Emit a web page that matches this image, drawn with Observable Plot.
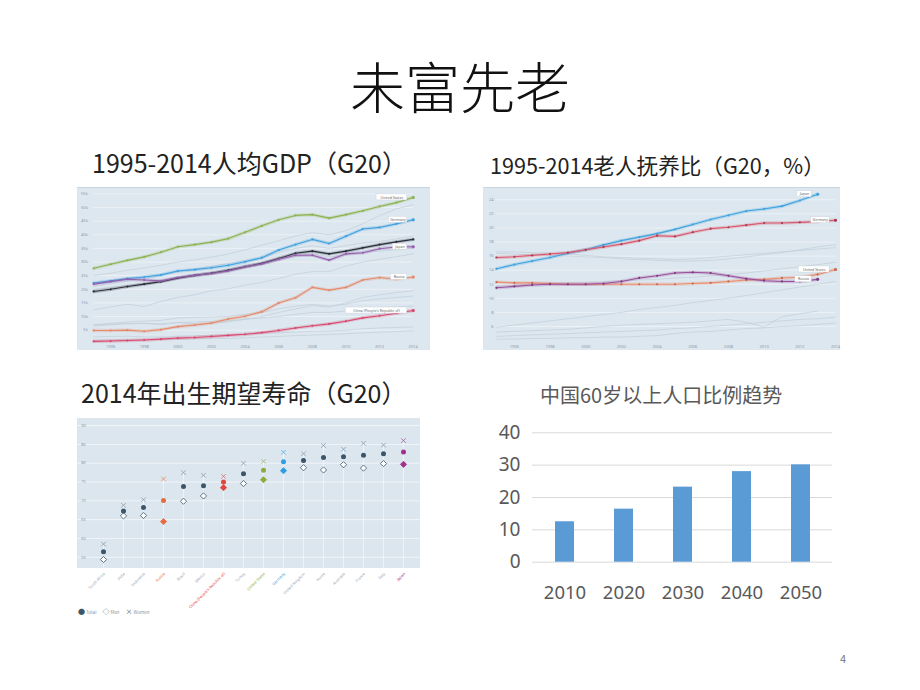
<!DOCTYPE html>
<html><head><meta charset="utf-8">
<script src="https://cdn.jsdelivr.net/npm/d3@7"></script>
<script src="https://cdn.jsdelivr.net/npm/@observablehq/plot@0.6"></script>
<style>
body{margin:0;background:#fff;}
#slide{position:relative;width:920px;height:690px;overflow:hidden;background:#fff;font-family:"Noto Sans CJK SC","Noto Sans",sans-serif;}
.abs{position:absolute;white-space:nowrap;}
.panel{position:absolute;background:#dde7ef;}
.chart{position:absolute;}
.chart svg{overflow:visible;}
</style></head>
<body>
<div id="slide">
  <div class="abs" style="left:0;width:920px;top:52px;line-height:64px;font-size:55px;font-weight:300;text-align:center;color:#111;">未富先老</div>
  <div class="abs" style="left:92px;top:146px;line-height:32px;font-size:25px;color:#222;">1995-2014人均GDP（G20）</div>
  <div class="abs" style="left:490px;top:150px;line-height:30px;font-size:21.6px;color:#222;">1995-2014老人抚养比（G20，%）</div>
  <div class="abs" style="left:81px;top:376px;line-height:32px;font-size:25px;color:#222;">2014年出生期望寿命（G20）</div>
  <div class="abs" style="left:540px;top:382px;line-height:26px;font-size:20px;color:#595959;">中国60岁以上人口比例趋势</div>
  <div class="abs" style="left:840px;top:650px;line-height:16px;font-size:11px;color:#777;">4</div>

  <div class="panel" style="left:77px;top:187px;width:353px;height:162px;border-top:1px solid #c9d5df;"></div>
  <div class="chart" id="gdp" style="left:77px;top:187px;"></div>

  <div class="panel" style="left:483px;top:187px;width:357px;height:162px;border-top:1px solid #c9d5df;"></div>
  <div class="chart" id="dep" style="left:483px;top:187px;"></div>

  <div class="panel" style="left:76.7px;top:418.3px;width:343.3px;height:149.4px;background:#dbe6ee;"></div>
  <div class="chart" id="life" style="left:70px;top:410px;"></div>
  <div class="abs" id="legend" style="left:78px;top:606px;line-height:10px;font-size:4.5px;color:#8a96a0;">
    <span style="color:#3d5568;font-size:7px;">●</span> Total&nbsp;&nbsp;&nbsp;&nbsp;&nbsp;&nbsp;<span style="color:#3d5568;font-size:7px;">◇</span> Men&nbsp;&nbsp;&nbsp;&nbsp;&nbsp;&nbsp;<span style="color:#3d5568;font-size:7px;">×</span> Women
  </div>

  <div class="chart" id="bar" style="left:480px;top:420px;"></div>
</div>
<script>
// ---------- shared ----------
const years = [1995,1996,1997,1998,1999,2000,2001,2002,2003,2004,2005,2006,2007,2008,2009,2010,2011,2012,2013,2014];
const yearTicks = [1996,1998,2000,2002,2004,2006,2008,2010,2012,2014];

// ---------- GDP per capita (thousand USD) ----------
const gdpUS      = [27.7,29.2,30.6,31.9,33.6,35.6,36.4,37.3,38.6,40.9,43.3,45.5,47.1,47.4,46.1,47.4,48.8,50.4,51.8,53.7];
const gdpGermany = [22.3,23.1,23.9,24.5,25.3,26.7,27.2,27.9,28.8,30.1,31.6,34.4,36.4,38.3,36.8,39.5,42.1,42.7,44.0,45.5];
const gdpJapan   = [21.9,22.8,23.7,23.4,23.1,24.3,25.1,25.8,26.7,28.2,29.4,31.0,32.5,32.5,30.7,33.0,33.4,34.9,35.5,35.6];
const gdpOECD    = [19.2,20.0,21.0,21.9,22.8,24.1,25.1,25.9,27.0,28.3,29.5,31.3,33.2,34.0,33.0,34.0,35.2,36.4,37.4,38.3];
const gdpRussia  = [4.9,4.9,5.0,4.6,5.2,6.3,6.9,7.6,9.1,10.1,11.8,15.0,16.9,20.7,19.7,20.7,23.4,24.3,23.7,24.5];
const gdpChina   = [0.9,1.0,1.2,1.4,1.7,2.1,2.3,2.7,3.1,3.5,4.1,4.9,5.8,6.6,7.3,8.3,9.5,10.3,11.2,12.2];
const gdpOthers = [
  [25.0,25.9,27.0,27.8,28.8,30.0,30.8,31.8,32.9,34.5,36.2,37.8,39.5,40.8,40.0,41.5,44.0,47.0,49.5,51.0],
  [21.0,22.0,23.0,24.0,25.0,26.5,27.5,28.5,29.5,30.5,31.5,33.5,35.0,36.0,35.0,36.0,37.0,37.5,38.5,39.5],
  [20.0,20.8,21.5,22.3,23.0,24.5,25.3,26.0,26.8,27.8,29.0,30.5,32.0,33.0,32.0,32.5,33.5,34.0,34.5,35.0],
  [12.5,13.5,14.5,13.7,15.5,17.0,18.0,19.5,20.2,21.5,22.5,24.0,25.5,26.5,26.5,28.5,30.0,31.0,32.0,33.0],
  [7.0,7.5,8.0,8.3,8.6,9.5,9.7,9.8,10.0,10.8,11.5,12.8,13.8,14.5,13.8,14.5,15.8,16.5,17.0,17.5],
  [6.5,7.0,7.3,7.5,7.0,7.8,7.3,7.5,8.0,9.0,10.0,11.5,12.8,14.0,13.5,15.0,17.0,18.0,18.8,19.5],
  [7.0,7.2,7.5,7.5,7.3,7.8,8.0,8.2,8.4,9.0,9.5,10.0,10.8,11.5,11.5,12.0,12.8,13.2,13.5,13.8],
  [2.5,2.7,2.8,2.5,2.5,2.8,3.0,3.1,3.3,3.5,3.8,4.0,4.3,4.6,4.7,5.0,5.5,5.8,6.0,6.2],
  [1.3,1.4,1.5,1.5,1.6,1.7,1.8,1.9,2.0,2.2,2.5,2.7,3.0,3.2,3.4,3.7,4.0,4.3,4.5,4.8]
];
const gdpTicks = [5,10,15,20,25,30,35,40,45,50,55];

// ---------- Old-age ratio (%) ----------
const depJapan   = [14.2,14.8,15.3,15.8,16.4,16.9,17.6,18.2,18.7,19.2,19.8,20.5,21.2,21.8,22.4,22.7,23.1,23.9,24.8,null];
const depGermany = [15.8,15.9,16.1,16.3,16.5,16.9,17.3,17.7,18.2,18.9,18.8,19.4,19.9,20.1,20.4,20.7,20.7,20.8,20.9,21.1];
const depUS      = [12.3,12.2,12.2,12.1,12.0,12.0,12.0,12.0,12.0,12.0,12.0,12.1,12.2,12.4,12.6,12.7,12.9,13.0,13.4,14.1];
const depRussia  = [11.5,11.7,11.9,12.0,12.0,12.0,12.1,12.4,12.9,13.2,13.6,13.7,13.6,13.2,12.8,12.5,12.4,12.4,12.7,null];
const depOthers = [
  [16.4,16.3,16.2,16.1,16.0,15.9,15.8,15.6,15.5,15.4,15.3,15.3,15.4,15.6,15.9,16.2,16.5,16.9,17.3,17.6],
  [16.6,16.6,16.5,16.4,16.3,16.1,15.9,15.8,15.7,15.6,15.5,15.6,15.8,16.0,16.2,16.4,16.6,16.8,17.0,17.2],
  [11.8,11.9,12.0,12.1,12.2,12.3,12.4,12.5,12.6,12.7,12.9,13.0,13.2,13.4,13.6,13.9,14.2,14.5,14.8,15.1],
  [5.9,6.2,6.5,6.8,7.1,7.4,7.7,8.0,8.4,8.7,9.0,9.4,9.7,10.0,10.4,10.8,11.2,11.6,12.0,12.4],
  [5.2,5.3,5.4,5.5,5.6,5.8,6.0,6.2,6.3,6.4,6.5,6.6,6.8,7.0,6.6,5.9,7.4,7.8,8.2,null],
  [4.6,4.7,4.8,4.9,5.0,5.1,5.2,5.3,5.4,5.5,5.7,5.8,6.0,6.2,6.4,6.6,6.8,7.0,7.1,7.3],
  [4.2,4.2,4.3,4.3,4.4,4.4,4.5,4.5,4.6,4.7,5.0,5.2,5.3,5.5,5.7,5.8,6.0,6.1,6.3,6.5]
];
const depTicks = [6,8,10,12,14,16,18,20,22,24];

// ---------- Life expectancy 2014 ----------
const leCountries = ["South Africa","India","Indonesia","Russia","Brazil","Mexico","China (People's Republic of)","Turkey","United States","Germany","United Kingdom","Korea","Australia","France","Italy","Japan"];
const leTotal = [56.5,67.3,68.2,70.1,73.8,74.0,75.0,77.2,78.1,80.4,80.7,81.5,81.7,82.1,82.5,83.0];
const leMen   = [54.4,66.0,66.1,64.5,69.9,71.3,73.5,74.6,75.6,78.0,78.8,78.2,79.6,78.7,79.9,79.7];
const leWomen = [58.5,68.8,70.3,75.8,77.5,76.8,76.5,80.0,80.5,82.9,82.5,84.7,83.7,85.3,84.8,86.0];
const leTicks = [55,60,65,70,75,80,85,90];

// ---------- China 60+ share ----------
const barYears = ["2010","2020","2030","2040","2050"];
const barValues = [12.5,16.4,23.2,28.0,30.1];
const barTicks = [0,10,20,30,40];

// ---------- styles ----------
const font = '"Noto Sans","Noto Sans CJK SC",sans-serif';
const tickGray = "#8a98a6";
const greyLine = "#c2ced8";

function rows(arr, name) { return years.map((y,i) => ({year:y, value:arr[i], name})).filter(d => d.value != null); }

function lineChart(series, others, opts) {
  const marks = [];
  marks.push(Plot.gridY(opts.ticks, {stroke:"#fff", strokeOpacity:0.75, strokeWidth:0.6}));
  others.forEach((arr,i) => marks.push(Plot.line(rows(arr,"o"+i), {x:"year", y:"value", stroke:greyLine, strokeWidth:0.7})));
  series.forEach(s => {
    const r = rows(s.values, s.name);
    marks.push(Plot.line(r, {x:"year", y:"value", stroke:s.color, strokeWidth:3.4, strokeOpacity:0.25}));
    marks.push(Plot.line(r, {x:"year", y:"value", stroke:s.color, strokeWidth:1.1}));
    marks.push(Plot.dot(r, {x:"year", y:"value", r:1.1, fill:s.dark || s.color}));
  });
  series.filter(s => s.label).forEach(s => {
    const r = rows(s.values, s.name);
    const last = r[r.length-1];
    const w = s.name.length*2.05 + 4;
    marks.push(Plot.rect([last], {x1:"year", x2:"year", y1:"value", y2:"value",
      insetLeft:-(w+6), insetRight:6, insetTop:-3, insetBottom:-3, fill:"#fff", stroke:"#c8d0d8", strokeWidth:0.4}));
    marks.push(Plot.text([last], {x:"year", y:"value", text:"name", dx:-6-w/2, fontSize:3.6, fill:"#666"}));
    marks.push(Plot.dot([last], {x:"year", y:"value", r:1.5, fill:s.dark || s.color}));
  });
  marks.push(Plot.axisX({ticks:yearTicks, tickFormat:"d", tickSize:0, tickPadding:1, fontSize:4, fill:tickGray, label:null}));
  marks.push(Plot.axisY({ticks:opts.ticks, tickFormat:opts.fmt, tickSize:0, tickPadding:opts.pad, fontSize:4, fill:tickGray, label:null}));
  return Plot.plot({
    width:opts.width, height:opts.height,
    marginLeft:opts.ml, marginRight:opts.mr, marginTop:opts.mt, marginBottom:opts.mb,
    x:{domain:[1995,2014], label:null}, y:{domain:opts.domain, label:null},
    style:{background:"transparent", fontFamily:font},
    marks
  });
}

document.getElementById("gdp").append(lineChart([
  {name:"United States", values:gdpUS, color:"#8db24f", label:true},
  {name:"Germany", values:gdpGermany, color:"#3fa1e0", label:true},
  {name:"OECD", values:gdpOECD, color:"#2b2f3a", label:false},
  {name:"Japan", values:gdpJapan, color:"#9560ad", label:true},
  {name:"Russia", values:gdpRussia, color:"#e58a6c", label:true},
  {name:"China (People's Republic of)", values:gdpChina, color:"#d9496f", label:true}
], gdpOthers, {width:353, height:162, ml:16.3, mr:17.3, mt:5.3, mb:5.7, domain:[0,55.4], ticks:gdpTicks, fmt:d=>d+"k", pad:6}));

document.getElementById("dep").append(lineChart([
  {name:"Japan", values:depJapan, color:"#3fa3de", label:true},
  {name:"Germany", values:depGermany, color:"#d9566d", dark:"#a83a52", label:true},
  {name:"United States", values:depUS, color:"#e98c6c", dark:"#c86848", label:true},
  {name:"Russia", values:depRussia, color:"#9a4f9c", dark:"#7c3a80", label:true}
], depOthers, {width:357, height:162, ml:13, mr:5, mt:0, mb:5.7, domain:[3.54,25.75], ticks:depTicks, fmt:d=>String(d), pad:3}));

// life expectancy
const hiColor = {"Russia":"#ea6b3b","China (People's Republic of)":"#e1453d","United States":"#8bab3c","Germany":"#2d9ee2","Japan":"#a2318c"};
const baseColor = "#3d5568";
const le = leCountries.map((c,i) => ({country:c, total:leTotal[i], men:leMen[i], women:leWomen[i]}));
const colOf = d => hiColor[d.country] || baseColor;
document.getElementById("life").append(Plot.plot({
  width:365, height:200, marginLeft:6.7, marginRight:15, marginTop:8.3, marginBottom:42.3,
  x:{type:"point", domain:leCountries, padding:0, insetLeft:20.6, insetRight:11.7, axis:null},
  y:{domain:[52.1,91.8], axis:null},
  style:{background:"transparent", fontFamily:font},
  marks:[
    Plot.gridY(leTicks, {stroke:"#fff", strokeOpacity:0.85, strokeWidth:0.7}),
    Plot.ruleX(le, {x:"country", y1:52.1, y2:"women", stroke:"#fff", strokeOpacity:0.9, strokeWidth:0.6}),
    Plot.text(leTicks, {y:d=>d, text:d=>String(d), frameAnchor:"left", dx:4, textAnchor:"start", fontSize:4, fill:tickGray}),
    Plot.dot(le, {x:"country", y:"women", symbol:"times", r:2.2, stroke:d => hiColor[d.country] ? hiColor[d.country] : "#76889a", strokeOpacity:0.8, strokeWidth:0.8}),
    Plot.dot(le.filter(d => !hiColor[d.country]), {x:"country", y:"men", symbol:"diamond2", r:2.8, stroke:baseColor, strokeWidth:0.8, fill:"#fff"}),
    Plot.dot(le.filter(d => hiColor[d.country]), {x:"country", y:"men", symbol:"diamond2", r:2.8, fill:colOf, stroke:colOf, strokeWidth:0.8}),
    Plot.dot(le, {x:"country", y:"total", r:2.5, fill:colOf}),
    Plot.text(le, {x:"country", y:52.1, text:"country", rotate:-45, textAnchor:"end", dy:5, dx:1, fontSize:3.8, fill:d => hiColor[d.country] || "#9aa5b0"})
  ]
}));

// bar chart
const bars = barYears.map((y,i) => ({year:y, value:barValues[i]}));
document.getElementById("bar").append(Plot.plot({
  width:360, height:190, marginLeft:52, marginRight:8, marginTop:12.3, marginBottom:48.3,
  x:{type:"band", domain:barYears, paddingInner:0.683, paddingOuter:0.342, label:null},
  y:{domain:[0,40], label:null},
  style:{background:"transparent", fontFamily:font},
  marks:[
    Plot.gridY(barTicks, {stroke:"#d9d9d9", strokeOpacity:1, strokeWidth:1}),
    Plot.barY(bars, {x:"year", y:"value", fill:"#5b9bd5"}),
    Plot.axisY({ticks:barTicks, tickSize:0, tickPadding:12, fontSize:19, fill:"#595959", label:null}),
    Plot.axisX({tickSize:0, tickPadding:24, fontSize:18.5, fill:"#595959", label:null})
  ]
}));
</script>
</body></html>
